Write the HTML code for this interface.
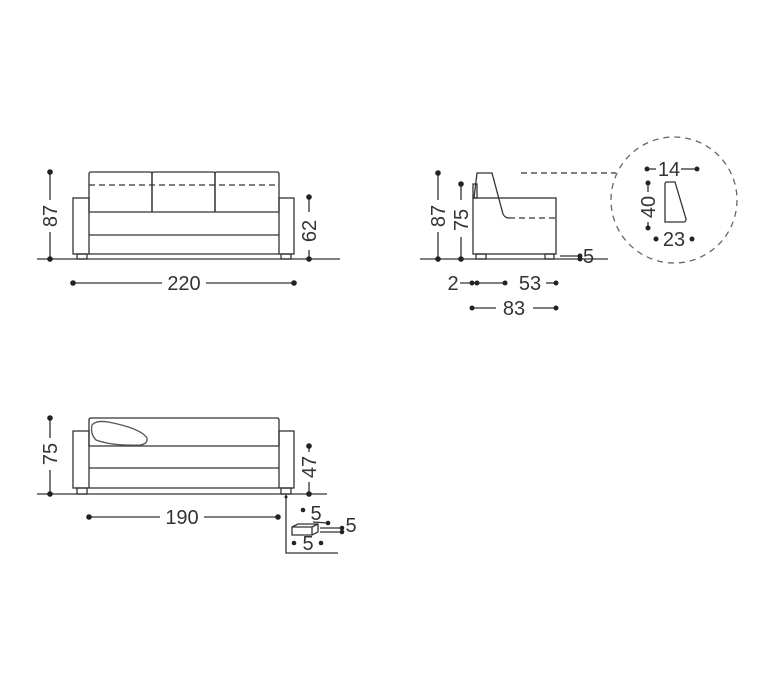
<!DOCTYPE html>
<html><head><meta charset="utf-8"><style>
html,body{margin:0;padding:0;background:#fff;}
svg{display:block;}
text{font-family:"Liberation Sans",sans-serif;font-size:20px;fill:#333;}
</style></head><body>
<svg width="768" height="678" viewBox="0 0 768 678" xmlns="http://www.w3.org/2000/svg">
<g stroke="#333" stroke-width="1.3" fill="none">
<!-- FRONT VIEW -->
<line x1="37" y1="259" x2="340" y2="259"/>
<path d="M89,212 V174 Q89,172 91,172 H150 Q152,172 152,174 V212"/>
<path d="M152,212 V174 Q152,172 154,172 H213 Q215,172 215,174 V212"/>
<path d="M215,212 V174 Q215,172 217,172 H277 Q279,172 279,174 V212"/>
<line x1="89" y1="185" x2="279" y2="185" stroke-dasharray="6,4"/>
<rect x="73" y="198" width="16" height="56"/>
<rect x="279" y="198" width="15" height="56"/>
<line x1="89" y1="212" x2="279" y2="212"/>
<line x1="89" y1="235" x2="279" y2="235"/>
<line x1="89" y1="254" x2="279" y2="254"/>
<rect x="77" y="254" width="10" height="5"/>
<rect x="281" y="254" width="10" height="5"/>
<line x1="50" y1="172" x2="50" y2="200"/><line x1="50" y1="232" x2="50" y2="259"/>
<line x1="309" y1="197" x2="309" y2="212"/><line x1="309" y1="250" x2="309" y2="259"/>
<line x1="73" y1="283" x2="162" y2="283"/><line x1="206" y1="283" x2="294" y2="283"/>

<!-- SIDE VIEW -->
<line x1="420" y1="259" x2="608" y2="259"/>
<rect x="473" y="198" width="83" height="56"/>
<path d="M474,198 L477,173 H492 L503,214 Q505,218 509,218"/>
<line x1="509" y1="218" x2="556" y2="218" stroke-dasharray="6,4"/>
<rect x="473" y="184" width="4" height="14"/>
<rect x="476" y="254" width="10" height="5"/>
<rect x="545" y="254" width="9" height="5"/>
<line x1="521" y1="173" x2="616" y2="173" stroke-dasharray="6,4"/>
<circle cx="674" cy="200" r="63" stroke="#666" stroke-dasharray="6,5"/>
<line x1="438" y1="173" x2="438" y2="200"/><line x1="438" y1="232" x2="438" y2="259"/>
<line x1="461" y1="184" x2="461" y2="200"/><line x1="461" y1="237" x2="461" y2="259"/>
<line x1="560" y1="256" x2="578" y2="256"/>
<line x1="460" y1="283" x2="505" y2="283"/><line x1="546" y1="283" x2="556" y2="283"/>
<line x1="472" y1="308" x2="496" y2="308"/><line x1="533" y1="308" x2="556" y2="308"/>
<!-- detail -->
<path d="M665,222 V184 Q665,182 667,182 H675 L686,219 Q686,222 684,222 Z"/>
<line x1="647" y1="169" x2="656" y2="169"/><line x1="681" y1="169" x2="697" y2="169"/>
<line x1="648" y1="183" x2="648" y2="192"/><line x1="648" y1="222" x2="648" y2="228"/>

<!-- TOP/BED VIEW -->
<line x1="37" y1="494" x2="327" y2="494"/>
<path d="M89,446 V420 Q89,418 91,418 H277 Q279,418 279,420 V446"/>
<rect x="73" y="431" width="16" height="57"/>
<rect x="279" y="431" width="15" height="57"/>
<line x1="89" y1="446" x2="279" y2="446"/>
<line x1="89" y1="468" x2="279" y2="468"/>
<line x1="89" y1="488" x2="279" y2="488"/>
<rect x="77" y="488" width="10" height="6"/>
<rect x="281" y="488" width="10" height="6"/>
<path d="M92,425 Q96,420 108,422 Q140,428 147,438 Q148,444 140,445 Q112,446 96,440 Q90,434 92,425 Z" stroke="#555"/>
<line x1="50" y1="418" x2="50" y2="438"/><line x1="50" y1="470" x2="50" y2="494"/>
<line x1="309" y1="446" x2="309" y2="452"/><line x1="309" y1="482" x2="309" y2="494"/>
<line x1="89" y1="517" x2="160" y2="517"/><line x1="204" y1="517" x2="278" y2="517"/>
<polyline points="286,494 286,553 338,553"/>
<path d="M292,527 L298,524 H318 V532 L312,535 H292 Z M292,527 H312 V535 M312,527 L318,524"/>
<line x1="320" y1="528" x2="342" y2="528"/><line x1="320" y1="532" x2="342" y2="532"/>
<line x1="313" y1="522" x2="328" y2="523"/>
</g>
<g fill="#222">
<circle cx="50" cy="172" r="2.8"/><circle cx="50" cy="259" r="2.8"/>
<circle cx="309" cy="197" r="2.8"/><circle cx="309" cy="259" r="2.8"/>
<circle cx="73" cy="283" r="2.8"/><circle cx="294" cy="283" r="2.8"/>
<circle cx="438" cy="173" r="2.8"/><circle cx="438" cy="259" r="2.8"/>
<circle cx="461" cy="184" r="2.8"/><circle cx="461" cy="259" r="2.8"/>
<circle cx="580" cy="256" r="2.5"/><circle cx="580" cy="259" r="2.5"/>
<circle cx="472" cy="283" r="2.5"/><circle cx="477" cy="283" r="2.5"/>
<circle cx="505" cy="283" r="2.5"/><circle cx="556" cy="283" r="2.5"/>
<circle cx="472" cy="308" r="2.5"/><circle cx="556" cy="308" r="2.5"/>
<circle cx="647" cy="169" r="2.5"/><circle cx="697" cy="169" r="2.5"/>
<circle cx="648" cy="183" r="2.5"/><circle cx="648" cy="228" r="2.5"/>
<circle cx="656" cy="239" r="2.5"/><circle cx="692" cy="239" r="2.5"/>
<circle cx="50" cy="418" r="2.8"/><circle cx="50" cy="494" r="2.8"/>
<circle cx="309" cy="446" r="2.8"/><circle cx="309" cy="494" r="2.8"/>
<circle cx="89" cy="517" r="2.8"/><circle cx="278" cy="517" r="2.8"/>
<circle cx="303" cy="510" r="2.3"/><circle cx="328" cy="523" r="2.3"/>
<circle cx="342" cy="528" r="2.3"/><circle cx="342" cy="532" r="2.3"/>
<circle cx="294" cy="543" r="2.3"/><circle cx="321" cy="543" r="2.3"/>
<circle cx="286" cy="497" r="1.5"/>
</g>
<g>
<text x="0" y="0" text-anchor="middle" transform="translate(57,216) rotate(-90)">87</text>
<text x="0" y="0" text-anchor="middle" transform="translate(316,231) rotate(-90)">62</text>
<text x="184" y="290" text-anchor="middle">220</text>
<text x="0" y="0" text-anchor="middle" transform="translate(445,216) rotate(-90)">87</text>
<text x="0" y="0" text-anchor="middle" transform="translate(468,220) rotate(-90)">75</text>
<text x="583" y="263">5</text>
<text x="453" y="290" text-anchor="middle">2</text>
<text x="530" y="290" text-anchor="middle">53</text>
<text x="514" y="315" text-anchor="middle">83</text>
<text x="669" y="176" text-anchor="middle">14</text>
<text x="0" y="0" text-anchor="middle" transform="translate(655,207) rotate(-90)">40</text>
<text x="674" y="246" text-anchor="middle">23</text>
<text x="0" y="0" text-anchor="middle" transform="translate(57,454) rotate(-90)">75</text>
<text x="0" y="0" text-anchor="middle" transform="translate(316,467) rotate(-90)">47</text>
<text x="182" y="524" text-anchor="middle">190</text>
<text x="316" y="520" text-anchor="middle">5</text>
<text x="351" y="532" text-anchor="middle">5</text>
<text x="308" y="550" text-anchor="middle">5</text>
</g>
</svg>
</body></html>
